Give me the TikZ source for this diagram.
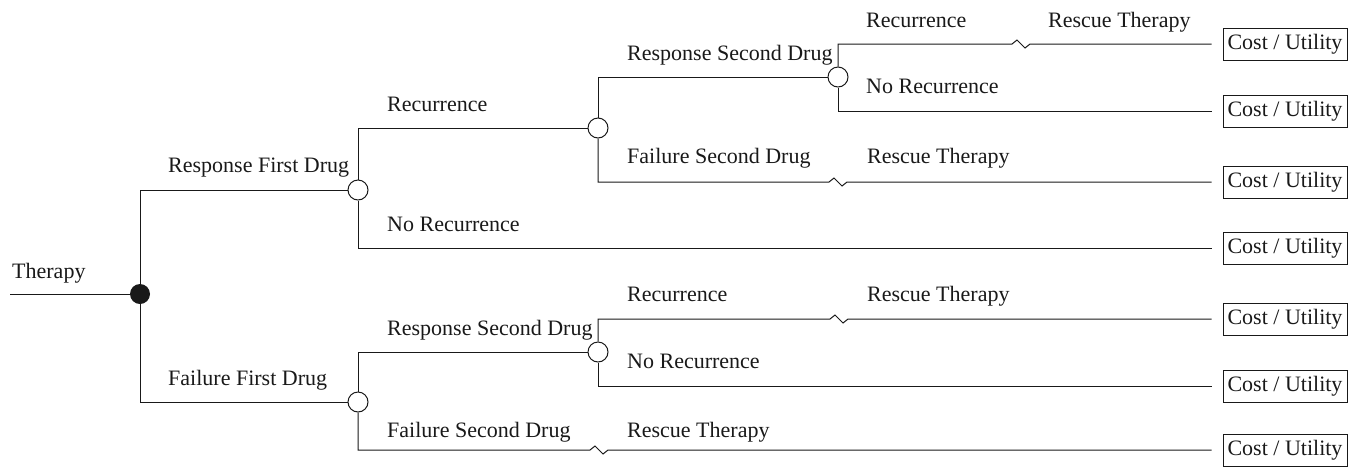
\documentclass[tikz,border=0pt]{standalone}
\usepackage{fontspec}
\setmainfont{Liberation Serif}
\begin{document}
\begin{tikzpicture}[x=1pt,y=-1pt,
  lbl/.style={anchor=base west,inner sep=0pt,font=\fontsize{22}{24}\selectfont,text=black!90},
  chance/.style={circle,draw=black!90,line width=1pt,fill=white,minimum size=20pt,inner sep=0pt},
  decision/.style={circle,fill=black!90,minimum size=20pt,inner sep=0pt},
  cost/.style={draw=black!90,line width=1pt,minimum width=124pt,minimum height=32pt,inner sep=0pt,font=\fontsize{22}{24}\selectfont,text=black!90},
  branch/.style={draw=black!90,line width=1pt},
  toend/.style={shorten >=11pt}]
\useasboundingbox (0,0) rectangle (1351,467);

% nodes
\coordinate (start) at (10,294);
\node[decision] (D) at (140,294) {};
\node[chance] (C1) at (358,190) {};
\node[chance] (C2) at (598,128) {};
\node[chance] (C3) at (838,77) {};
\node[chance] (C4) at (358,402) {};
\node[chance] (C5) at (598,352) {};

\node[cost] (E1) at (1285,44) {Cost / Utility};
\node[cost] (E2) at (1285,111) {Cost / Utility};
\node[cost] (E3) at (1285,182) {Cost / Utility};
\node[cost] (E4) at (1285,248) {Cost / Utility};
\node[cost] (E5) at (1285,319) {Cost / Utility};
\node[cost] (E6) at (1285,386) {Cost / Utility};
\node[cost] (E7) at (1285,450) {Cost / Utility};

\coordinate (w1) at (1012,44);
\coordinate (w2) at (829,182);
\coordinate (w3) at (830,319);
\coordinate (w4) at (590,450);

% connectors
\draw[branch] (start) -- (D.west);
\draw[branch] (D.north) |- (C1.west);
\draw[branch] (D.south) |- (C4.west);
\draw[branch] (C1.north) |- (C2.west);
\draw[branch,toend] (C1.south) |- (E4.west);
\draw[branch] (C2.north) |- (C3.west);
\draw[branch,toend] (C2.south) |- (w2) -- ++(5,-4) -- ++(8,8) -- ++(5,-4) -- (E3.west);
\draw[branch,toend] (C3.north) |- (w1) -- ++(5,-4) -- ++(8,8) -- ++(5,-4) -- (E1.west);
\draw[branch,toend] (C3.south) |- (E2.west);
\draw[branch] (C4.north) |- (C5.west);
\draw[branch,toend] (C4.south) |- (w4) -- ++(5,-4) -- ++(8,8) -- ++(5,-4) -- (E7.west);
\draw[branch,toend] (C5.north) |- (w3) -- ++(5,-4) -- ++(8,8) -- ++(5,-4) -- (E5.west);
\draw[branch,toend] (C5.south) |- (E6.west);

% labels
\node[lbl] (t0) at (12,278) {Therapy};
\node[lbl] (t1) at (168,172) {Response First Drug};
\node[lbl] (t2) at (168,385) {Failure First Drug};
\node[lbl] (t3) at (387,111) {Recurrence};
\node[lbl] (t4) at (387,231) {No Recurrence};
\node[lbl] (t5) at (627,60) {Response Second Drug};
\node[lbl] (t6) at (627,163) {Failure Second Drug};
\node[lbl] (t7) at (866,27) {Recurrence};
\node[lbl] (t8) at (866,93) {No Recurrence};
\node[lbl] (t9) at (1048,27) {Rescue Therapy};
\node[lbl] (t10) at (867,163) {Rescue Therapy};
\node[lbl] (t11) at (387,335) {Response Second Drug};
\node[lbl] (t12) at (387,437) {Failure Second Drug};
\node[lbl] (t13) at (627,301) {Recurrence};
\node[lbl] (t14) at (627,368) {No Recurrence};
\node[lbl] (t15) at (867,301) {Rescue Therapy};
\node[lbl] (t16) at (627,437) {Rescue Therapy};
\end{tikzpicture}
\end{document}
